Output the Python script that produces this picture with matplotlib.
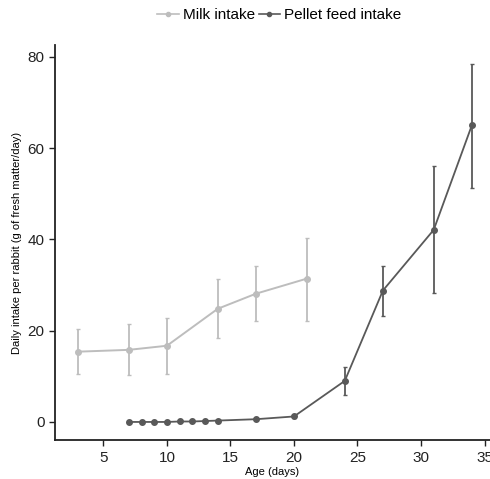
import matplotlib
matplotlib.use("Agg")
import matplotlib.pyplot as plt
from matplotlib.lines import Line2D

milk_days = [3, 7, 10, 14, 17, 21]
milk_mean = [15.4, 15.8, 16.7, 24.8, 28.1, 31.4]
milk_low = [10.5, 10.3, 10.5, 18.4, 22.1, 22.1]
milk_high = [20.4, 21.5, 22.8, 31.4, 34.2, 40.3]

pellet_days = [7, 8, 9, 10, 11, 12, 13, 14, 17, 20, 24, 27, 31, 34]
pellet_mean = [0.0, 0.0, 0.0, 0.0, 0.1, 0.1, 0.2, 0.3, 0.6, 1.2, 9.0, 28.8, 42.1, 65.0]
pellet_low = [0.0, 0.0, 0.0, 0.0, 0.1, 0.1, 0.2, 0.3, 0.5, 0.8, 6.0, 23.3, 28.2, 51.3]
pellet_high = [0.0, 0.0, 0.0, 0.0, 0.1, 0.1, 0.2, 0.3, 0.7, 1.6, 12.0, 34.2, 56.0, 78.5]

x_ticks = [5, 10, 15, 20, 25, 30, 35]
y_ticks = [0, 20, 40, 60, 80]

plt.rcParams['font.family'] = ['Liberation Sans', 'DejaVu Sans']

fig = plt.figure(figsize=(4.9, 4.79), dpi=100)
ax = fig.add_axes([0.112, 0.081, 0.888, 0.825])

milk_c = '#bdbdbd'
pellet_c = '#595959'

def err(m, lo, hi):
    return [[a - b for a, b in zip(m, lo)], [b - a for a, b in zip(m, hi)]]

ax.errorbar(milk_days, milk_mean, yerr=err(milk_mean, milk_low, milk_high),
            color=milk_c, marker='o', markersize=4, linewidth=1.4,
            elinewidth=1.3, capsize=1.5, capthick=1)
ax.errorbar(pellet_days, pellet_mean, yerr=err(pellet_mean, pellet_low, pellet_high),
            color=pellet_c, marker='o', markersize=4, linewidth=1.3,
            elinewidth=1.3, capsize=1.5, capthick=1)

ax.set_xlim(1.18, 35.43)
ax.set_ylim(-4, 82.6)
ax.set_xticks(x_ticks)
ax.set_yticks(y_ticks)
ax.tick_params(labelsize=11, colors='#222222', length=4, width=1)
for s in ['top', 'right']:
    ax.spines[s].set_visible(False)
for s in ['left', 'bottom']:
    ax.spines[s].set_linewidth(1.3)
    ax.spines[s].set_color('#222222')

ax.set_xlabel('Age (days)', fontsize=8, labelpad=2)
ax.set_ylabel('Daily intake per rabbit (g of fresh matter/day)', fontsize=8, labelpad=4)

handles = [Line2D([], [], color=milk_c, marker='o', markersize=3, linewidth=1.2),
           Line2D([], [], color=pellet_c, marker='o', markersize=3, linewidth=1.2)]
labels = ['Milk intake', 'Pellet feed intake']
fig.legend(handles, labels, loc='center', bbox_to_anchor=(0.57, 0.968), ncol=2,
           frameon=False, fontsize=11, handlelength=1.4, handletextpad=0.25,
           columnspacing=0.25)

fig.savefig('out.png', dpi=100)
